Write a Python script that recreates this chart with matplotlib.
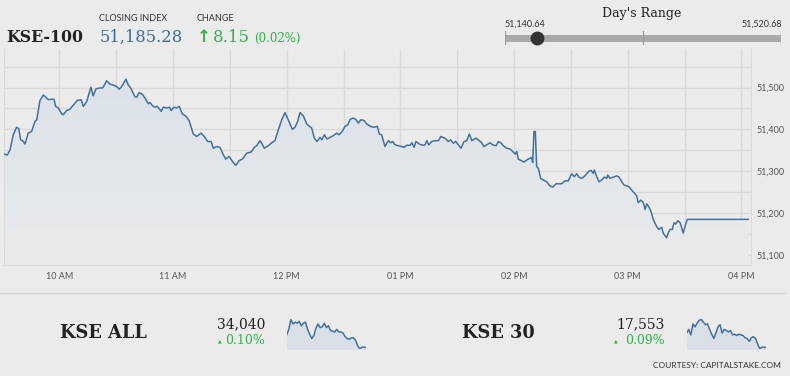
import numpy as np
import matplotlib
matplotlib.use("Agg")
import matplotlib.pyplot as plt
from matplotlib.ticker import FixedLocator, FuncFormatter

# KSE-100 intraday, minutes after 09:30 and index level
minutes = [0.8, 2.6, 4.0, 5.7, 7.5, 8.6, 9.6, 10.7, 11.9, 13.6, 15.4, 17.2, 18.1, 19.8,
           21.6, 22.6, 24.2, 26.0, 27.2, 28.1, 29.5, 31.3, 32.1, 33.9, 35.6, 37.4, 39.5,
           41.5, 42.7, 44.5, 46.7, 47.9, 49.4, 51.5, 52.9, 55.0, 56.8, 58.5, 60.3, 61.7,
           62.9, 65.2, 66.4, 67.7, 69.9, 70.8, 72.2, 74.0, 75.6, 77.0, 77.9, 79.3, 80.5,
           81.7, 83.8, 84.9, 86.7, 88.1, 89.1, 90.5, 91.9, 93.3, 94.9, 96.9, 98.5, 100.7,
           102.5, 104.8, 106.5, 108.3, 110.1, 111.3, 113.1, 114.8, 116.6, 117.8, 119.6,
           121.8, 123.2, 124.8, 126.6, 128.9, 130.6, 131.5, 132.9, 134.2, 135.9, 136.8,
           138.2, 140.3, 142.1, 143.8, 145.6, 147.4, 149.1, 150.8, 153.0, 154.4, 155.8,
           157.0, 158.8, 160.6, 161.8, 163.2, 164.6, 166.0, 167.6, 168.5, 169.9, 171.3,
           173.0, 174.6, 176.4, 177.6, 179.3, 180.8, 182.2, 183.6, 185.1, 186.4, 187.8,
           189.2, 190.9, 192.2, 193.9, 195.7, 197.8, 198.9, 200.1, 201.9, 203.6, 204.9,
           205.9, 207.2, 208.9, 210.7, 211.9, 213.3, 215.1, 216.1, 217.2, 218.2, 220.0,
           221.8, 223.0, 223.9, 225.0, 226.5, 228.3, 230.0, 231.4, 233.5, 235.3, 236.5,
           237.9, 239.2, 240.6, 242.0, 243.6, 245.0, 246.4, 247.7, 249.9, 251.1, 252.9,
           254.1, 255.5, 257.3, 258.7, 260.5, 261.7, 263.0, 264.3, 266.1, 267.9, 269.3,
           270.5, 271.4, 272.2, 274.0, 275.2, 276.7, 278.4, 279.3, 279.8, 280.5, 281.2,
           281.9, 282.8, 284.0, 285.4, 287.2, 288.9, 290.4, 292.1, 293.9, 295.1, 296.9,
           298.6, 300.4, 301.8, 303.0, 304.2, 305.7, 307.4, 309.2, 310.6, 311.8, 312.3,
           313.6, 314.8, 316.2, 317.6, 318.9, 319.4, 320.6, 322.4, 324.2, 325.4, 326.8,
           328.0, 329.4, 330.6, 332.0, 333.8, 334.7, 335.5, 336.9, 338.2, 339.1, 340.0,
           341.2, 342.2, 343.5, 345.2, 346.4, 347.9, 348.7, 350.5, 351.4, 352.3, 353.5,
           354.4, 355.3, 356.4, 357.6, 358.5, 359.2, 360.2, 361.4, 393.6]
kse100 = [51341, 51339, 51351, 51387, 51405, 51402, 51375, 51373, 51365, 51391, 51395,
          51419, 51423, 51469, 51482, 51478, 51471, 51472, 51472, 51455, 51451, 51437,
          51435, 51445, 51448, 51458, 51469, 51471, 51455, 51467, 51501, 51480, 51497,
          51499, 51499, 51516, 51508, 51506, 51502, 51496, 51502, 51520, 51506, 51499,
          51478, 51477, 51488, 51483, 51472, 51461, 51464, 51456, 51453, 51455, 51443,
          51453, 51451, 51453, 51445, 51453, 51451, 51455, 51437, 51431, 51421, 51389,
          51383, 51391, 51383, 51371, 51371, 51355, 51359, 51357, 51339, 51329, 51335,
          51321, 51314, 51325, 51329, 51343, 51345, 51347, 51357, 51361, 51373, 51367,
          51355, 51361, 51368, 51373, 51399, 51423, 51440, 51423, 51400, 51405, 51419,
          51440, 51432, 51413, 51408, 51403, 51379, 51371, 51381, 51375, 51387, 51377,
          51381, 51385, 51391, 51387, 51395, 51407, 51411, 51424, 51427, 51424, 51415,
          51423, 51421, 51413, 51408, 51405, 51407, 51389, 51387, 51359, 51373, 51368,
          51371, 51363, 51361, 51359, 51357, 51362, 51362, 51368, 51357, 51371, 51365,
          51362, 51363, 51373, 51363, 51371, 51373, 51373, 51383, 51379, 51371, 51375,
          51367, 51371, 51363, 51355, 51371, 51373, 51389, 51373, 51379, 51375, 51368,
          51359, 51363, 51368, 51363, 51361, 51371, 51368, 51361, 51355, 51353, 51347,
          51341, 51347, 51329, 51325, 51322, 51327, 51331, 51333, 51321, 51395, 51395,
          51311, 51307, 51283, 51279, 51275, 51265, 51262, 51270, 51270, 51270, 51277,
          51277, 51294, 51287, 51294, 51286, 51283, 51289, 51299, 51302, 51295, 51303,
          51287, 51275, 51279, 51286, 51283, 51291, 51283, 51286, 51289, 51286, 51275,
          51267, 51265, 51263, 51255, 51246, 51241, 51225, 51231, 51225, 51209, 51222,
          51214, 51204, 51184, 51168, 51161, 51166, 51152, 51141, 51153, 51161, 51161,
          51177, 51174, 51182, 51177, 51164, 51152, 51168, 51185, 51185]

hour_ticks = [30, 90, 150, 210, 270, 330, 390]
hour_labels = ["10 AM", "11 AM", "12 PM", "01 PM", "02 PM", "03 PM", "04 PM"]
y_ticks = [51100, 51200, 51300, 51400, 51500]

closing = 51185.28
change = 8.15
change_pct = 0.02
day_low, day_high = 51140.64, 51520.68

# mini charts
kse_all_vals = [33972, 34002, 34056, 34032, 34042, 34036, 34046, 34022, 34036, 34042, 34002,
                33976, 33952, 33968, 34008, 34032, 34012, 34016, 34036, 34012, 34022, 33996,
                33992, 33988, 34002, 33988, 33988, 33982, 33962, 33952, 33948, 33956, 33956,
                33942, 33912, 33896, 33904, 33904, 33904]
kse30_vals = [17592, 17602, 17587, 17617, 17609, 17619, 17627, 17629, 17622, 17615, 17617,
              17602, 17589, 17577, 17592, 17609, 17615, 17592, 17602, 17599, 17595, 17599,
              17587, 17589, 17585, 17589, 17587, 17585, 17579, 17577, 17569, 17579, 17582,
              17577, 17562, 17549, 17553, 17553, 17553]

BG = "#ebebeb"
GRID = "#d9d9d9"
LINE = "#44709c"
GREEN = "#33b24a"
BLUE = "#3d6d9e"
SANS = ["Lato", "DejaVu Sans"]
SERIF = ["DejaVu Serif"]

fig = plt.figure(figsize=(7.9, 3.76), dpi=100, facecolor=BG)

# main chart
ax = fig.add_axes([0.005, 0.2952, 0.9456, 0.5745], facecolor=BG)
ax.xaxis.set_major_locator(FixedLocator(hour_ticks))
ax.xaxis.set_minor_locator(FixedLocator(list(range(60, 391, 60))))
ax.set_xticklabels(hour_labels)
ax.yaxis.set_major_locator(FixedLocator(y_ticks))
ax.yaxis.set_minor_locator(FixedLocator([v + 50 for v in y_ticks]))
ax.yaxis.set_major_formatter(FuncFormatter(lambda v, p: f"{v:,.0f}"))
ax.yaxis.tick_right()
ax.grid(True, which="both", color=GRID, lw=1)
ax.set_axisbelow(True)
ax.tick_params(which="both", length=0, labelsize=6.5, labelcolor="#555555", pad=5)
ax.tick_params(axis="y", pad=4)
for lab in ax.get_xticklabels() + ax.get_yticklabels():
    lab.set_family(SANS)
ax.spines["top"].set_visible(False)
for s in ["left", "right", "bottom"]:
    ax.spines[s].set_color("#dcdcdc")

x = np.array(minutes)
y = np.array(kse100)
poly = ax.fill_between(x, y, 51076, color="none", lw=0)
grad = np.linspace(0, 1, 256).reshape(-1, 1)
cmap = matplotlib.colors.LinearSegmentedColormap.from_list("g", ["#eaebec", "#dbe2ea"])
im = ax.imshow(grad, cmap=cmap, aspect="auto", origin="lower",
               extent=[x.min(), x.max(), 51076, 51520], zorder=1)
im.set_clip_path(poly.get_paths()[0], transform=ax.transData)
ax.plot(x, y, color=LINE, lw=1.1, zorder=3)
ax.set_xlim(0.8, 395)
ax.set_ylim(51076, 51592)

# header
fig.text(0.0076, 0.889, "KSE-100", family=SERIF, fontsize=11.3, color="#222222",
         fontweight="bold", va="baseline")
fig.text(0.1253, 0.952, "CLOSING INDEX", family=SANS, fontsize=6.5, color="#333333", va="center")
fig.text(0.1266, 0.889, f"{closing:,.2f}", family=SERIF, fontsize=11.8, color=BLUE, va="baseline")
fig.text(0.249, 0.952, "CHANGE", family=SANS, fontsize=6.5, color="#333333", va="center")
fig.text(0.249, 0.889, "↑", family=["DejaVu Sans"], fontsize=12, color=GREEN,
         fontweight="bold", va="baseline")
fig.text(0.269, 0.889, f"{change:.2f}", family=SERIF, fontsize=12, color=GREEN, va="baseline")
fig.text(0.322, 0.889, f"({change_pct:.2f}%)", family=SERIF, fontsize=8.5, color=GREEN,
         va="baseline")

# day's range bar
fig.text(0.8127, 0.963, "Day's Range", family=SERIF, fontsize=9, color="#222222",
         ha="center", va="center")
fig.text(0.639, 0.936, f"{day_low:,.2f}", family=SANS, fontsize=6.5, color="#333333",
         ha="left", va="center")
fig.text(0.990, 0.936, f"{day_high:,.2f}", family=SANS, fontsize=6.5, color="#333333",
         ha="right", va="center")
rax = fig.add_axes([0.6392, 0.880, 0.3494, 0.037])
rax.set_xlim(day_low, day_high)
rax.set_ylim(-1, 1)
rax.axis("off")
rax.plot([day_low, day_high], [0, 0], color="#a9a9a9", lw=5, solid_capstyle="butt")
for v in [day_low, (day_low + day_high) / 2, day_high]:
    rax.plot([v, v], [-1, 1], color="#9a9a9a", lw=0.9)
rax.plot([closing], [0], "o", color="#333333", ms=9, zorder=5, clip_on=False)

# separator
fig.add_artist(plt.Line2D([0, 0.994], [0.2207, 0.2207], color="#cfcfcf", lw=1))

# bottom mini indices
def mini(xpos, vals, name, name_x, last, pct, right_x, tri_x):
    fig.text(name_x, 0.1144, name, family=SERIF, fontsize=12.8, fontweight="bold",
             color="#222222", va="center")
    fig.text(right_x, 0.1383, f"{last:,}", family=SERIF, fontsize=10, color="#222222",
             ha="right", va="center")
    fig.text(tri_x, 0.094, "▲", family=["DejaVu Sans"], fontsize=3.5, color=GREEN, va="center")
    fig.text(right_x, 0.094, f"{pct:.2f}%", family=SERIF, fontsize=9, color=GREEN,
             ha="right", va="center")
    sax = fig.add_axes([xpos, 0.071, 0.1004, 0.083])
    v = np.array(vals)
    lo = v.min() - (v.max() - v.min()) * 0.02
    sax.set_ylim(lo, v.max() + (v.max() - v.min()) * 0.05)
    sax.set_xlim(0, len(v) - 1)
    sax.fill_between(range(len(v)), v, lo, color="#d8dfe7", lw=0)
    sax.plot(range(len(v)), v, color=LINE, lw=1.1)
    sax.axis("off")

mini(0.3629, kse_all_vals, "KSE ALL", 0.076, 34040, 0.10, 0.3354, 0.276)
mini(0.8692, kse30_vals, "KSE 30", 0.585, 17553, 0.09, 0.8418, 0.777)

fig.text(0.9886, 0.0266, "COURTESY: CAPITALSTAKE.COM", family=SANS, fontsize=6,
         color="#333333", ha="right", va="center")

fig.savefig("out.png", dpi=100, facecolor=BG)
